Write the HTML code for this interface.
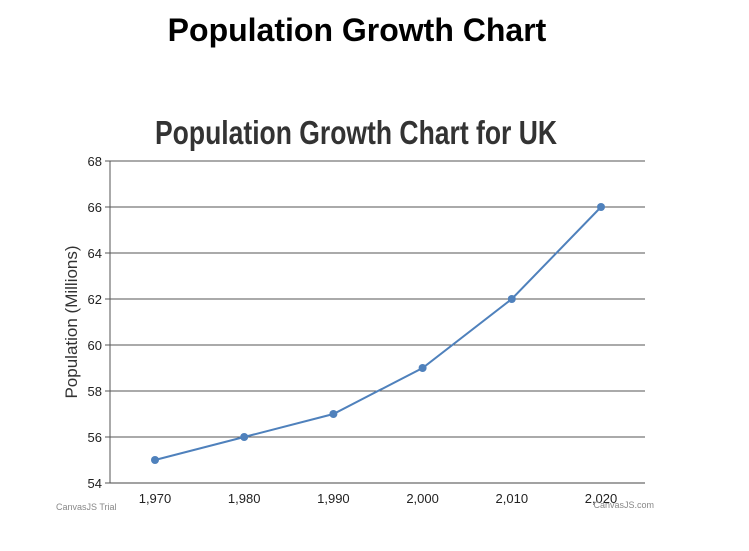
<!DOCTYPE html>
<html><head><meta charset="utf-8"><style>
body{margin:0;width:749px;height:551px;background:#fff;overflow:hidden;font-family:"Liberation Sans",sans-serif}
h1{position:absolute;top:12px;left:0;width:714px;margin:0;text-align:center;font-size:32px;font-weight:bold;color:#000}
svg{position:absolute;left:0;top:0}
</style></head><body>
<h1>Population Growth Chart</h1>
<svg id="c" width="749" height="551"></svg>
<script>
const years=[1970,1980,1990,2000,2010,2020];
const population=[55,56,57,59,62,66];
const yTicks=[54,56,58,60,62,64,66,68];
const xLabels=["1,970","1,980","1,990","2,000","2,010","2,020"];
const svg=document.getElementById('c');const NS='http://www.w3.org/2000/svg';
const L=110,R=645,T=161,B=483;
const xs=v=>155+(v-1970)*(601-155)/50;
const ys=v=>B-(v-54)*(B-T)/14;
function mk(t,a,p){const e=document.createElementNS(NS,t);for(const k in a)e.setAttribute(k,a[k]);(p||svg).appendChild(e);return e;}
let e=mk('text',{x:155,y:144,'font-size':33,'font-weight':'bold',textLength:402,lengthAdjust:'spacingAndGlyphs',fill:'#333'});e.textContent='Population Growth Chart for UK';


yTicks.forEach(v=>{const y=ys(v);
 const g=mk('line',{x1:L,x2:R,y1:y,y2:y,stroke:v===54?'#444':'#555','stroke-width':1});
 
 
 mk('line',{x1:L-5,x2:L,y1:y,y2:y,stroke:'#555'});
 const t=mk('text',{x:L-8,y:y+5,'text-anchor':'end','font-size':13,fill:'#222'});t.textContent=v;
 
 
});
mk('line',{x1:L,x2:L,y1:T,y2:B,stroke:'#555'});
years.forEach((yr,i)=>{const t=mk('text',{x:xs(yr),y:503,'text-anchor':'middle','font-size':13,fill:'#222'});t.textContent=xLabels[i];
 
 });
e=mk('text',{x:0,y:0,transform:'translate(77,322) rotate(-90)','text-anchor':'middle','font-size':17,fill:'#333'});e.textContent='Population (Millions)';


e=mk('polyline',{points:years.map((y,i)=>xs(y)+','+ys(population[i])).join(' '),fill:'none',stroke:'#4f81bc','stroke-width':2});


years.forEach((y,i)=>{const c=mk('circle',{cx:xs(y),cy:ys(population[i]),r:4,fill:'#4f81bc'});
 
 });
e=mk('text',{x:56,y:510,'font-size':9,fill:'#888'});e.textContent='CanvasJS Trial';


e=mk('text',{x:654,y:508,'text-anchor':'end','font-size':9,fill:'#888'});e.textContent='CanvasJS.com';


</script>
</body></html>
